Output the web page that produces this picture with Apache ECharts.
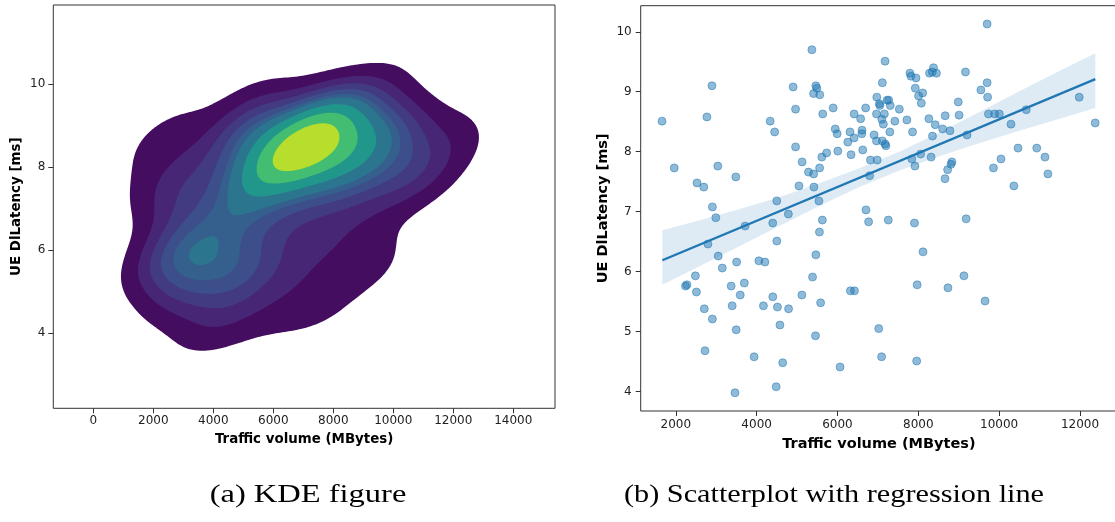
<!DOCTYPE html>
<html>
<head>
<meta charset="utf-8">
<script src="https://cdn.jsdelivr.net/npm/echarts@6/dist/echarts.min.js"></script>
<style>html,body{margin:0;padding:0;background:#fff}#c{width:1115px;height:522px}</style>
</head>
<body>
<div id="c"></div>
<script>
// ---- data ----
const trafficMB = [1660,1962,2240,2275,2485,2510,2525,2693,2705,2722,
2770,2795,2895,2905,2905,2990,3040,3050,3150,3370,
3395,3485,3505,3495,3465,3595,3695,3715,3938,4055,
4205,4168,4335,4400,4398,4445,4498,4500,4515,4483,
4576,4645,4785,4790,4903,4963,4963,5048,5125,5120,
5282,5367,5383,5409,5410,5418,5465,5490,5465,5456,
5562,5558,5541,5554,5583,5635,5613,5626,5732,5894,
5945,5992,6008,6064,6255,6310,6336,6412,6412,6320,
6421,6573,6607,6603,6625,6697,6705,6770,6795,6816,
6905,6973,6965,6965,6982,7021,7037,7050,7097,7110,
7092,7135,7110,7177,7160,7177,7198,7228,7266,7257,
7305,7296,7420,7530,7717,7793,7818,7840,7857,7905,
7917,7943,7925,7959,7972,8006,8057,8074,8108,8116,
8261,8278,8316,8350,8346,8375,8418,8448,8601,8665,
8660,8733,8725,8783,8809,8830,8988,9009,9128,9166,
9183,9205,9548,9651,9702,9702,9714,9736,9859,9889,
10003,10045,10292,10364,10466,10671,10930,11133,11206,11980,
12375];
const latencyMs = [8.51,7.73,5.76,5.78,5.93,5.66,7.48,7.41,5.38,4.68,
8.58,6.46,9.10,7.08,5.21,6.90,7.76,6.26,6.06,5.76,
5.43,7.58,6.16,5.03,3.98,5.61,5.81,6.76,4.58,6.18,
6.16,5.43,8.51,5.58,6.81,8.33,7.18,6.51,5.41,4.08,
5.11,4.48,6.96,5.38,9.08,8.08,8.71,7.43,7.83,5.61,
7.66,9.70,5.91,8.97,7.63,7.41,9.10,9.06,6.28,4.93,
8.95,7.73,7.18,6.66,5.48,8.63,7.91,6.86,7.98,8.73,
8.38,8.30,8.01,4.41,8.16,8.33,7.95,8.23,8.63,5.68,
5.68,8.55,8.36,8.30,8.03,8.73,7.03,6.83,7.60,7.86,
8.28,8.91,8.63,8.18,7.86,5.05,8.80,8.77,8.54,9.15,
4.58,8.46,8.18,9.51,8.63,8.13,8.10,8.86,8.86,6.86,
8.77,8.33,8.51,8.71,8.53,9.31,9.26,7.88,8.33,6.81,
7.76,9.23,9.06,4.51,5.78,8.93,7.96,8.81,8.98,6.33,
8.55,9.31,7.91,8.26,9.33,9.40,8.45,9.31,8.38,8.60,
7.55,5.73,7.70,8.35,7.79,7.83,8.83,8.61,5.93,9.33,
6.88,8.28,9.03,5.51,10.13,9.15,8.91,8.63,7.73,8.63,
8.63,7.88,8.46,7.43,8.06,8.70,8.06,7.91,7.63,8.91,
8.48];

// regression line and its confidence band
const fitX = [1668, 12379];
const fitY = [6.19, 9.21];
const ciX = [1668, 2500, 3500, 4500, 5500, 6500, 7500, 8500, 9500, 10500, 11500, 12379];
const ciLow = [5.78, 6.06, 6.40, 6.74, 7.08, 7.40, 7.68, 7.92, 8.14, 8.35, 8.55, 8.73];
const ciHigh = [6.69, 6.84, 7.03, 7.23, 7.46, 7.71, 7.99, 8.31, 8.66, 9.01, 9.35, 9.64];

// tick labels
const kdeXTicks = [0, 2000, 4000, 6000, 8000, 10000, 12000, 14000];
const kdeYTicks = [4, 6, 8, 10];
const scatXTicks = [2000, 4000, 6000, 8000, 10000, 12000];
const scatYTicks = [4, 5, 6, 7, 8, 9, 10];

const xTitle = 'Traffic volume (MBytes)';
const yTitle = 'UE DlLatency [ms]';
const captionA = '(a) KDE figure';
const captionB = '(b) Scatterplot with regression line';

// ---- KDE (gaussian kernel, Scott bandwidth, as seaborn kdeplot) ----
function gaussianKDE2D(xs, ys, gridsize, cut) {
  const n = xs.length;
  let mx = 0, my = 0;
  for (let i = 0; i < n; i++) { mx += xs[i]; my += ys[i]; }
  mx /= n; my /= n;
  let sxx = 0, syy = 0, sxy = 0;
  for (let i = 0; i < n; i++) {
    const dx = xs[i] - mx, dy = ys[i] - my;
    sxx += dx * dx; syy += dy * dy; sxy += dx * dy;
  }
  sxx /= (n - 1); syy /= (n - 1); sxy /= (n - 1);
  const f2 = Math.pow(n, -2 / 6);
  const a = sxx * f2, b = sxy * f2, c = syy * f2;
  const det = a * c - b * b;
  const ia = c / det, ib = -b / det, ic = a / det;
  const bwx = Math.sqrt(a), bwy = Math.sqrt(c);
  const x0 = Math.min(...xs) - cut * bwx, x1 = Math.max(...xs) + cut * bwx;
  const y0 = Math.min(...ys) - cut * bwy, y1 = Math.max(...ys) + cut * bwy;
  const gx = [], gy = [];
  for (let i = 0; i < gridsize; i++) {
    gx.push(x0 + (x1 - x0) * i / (gridsize - 1));
    gy.push(y0 + (y1 - y0) * i / (gridsize - 1));
  }
  const z = [];
  for (let j = 0; j < gridsize; j++) {
    const row = new Float64Array(gridsize);
    for (let i = 0; i < gridsize; i++) {
      let s = 0;
      for (let k = 0; k < n; k++) {
        const dx = gx[i] - xs[k], dy = gy[j] - ys[k];
        s += Math.exp(-0.5 * (ia * dx * dx + 2 * ib * dx * dy + ic * dy * dy));
      }
      row[i] = s;
    }
    z.push(row);
  }
  return { gx, gy, z };
}

function isoLevels(z, props) {
  const vals = [];
  z.forEach(r => r.forEach(v => vals.push(v)));
  vals.sort((p, q) => q - p);
  let total = 0;
  for (const v of vals) total += v;
  const cum = new Float64Array(vals.length);
  let acc = 0;
  for (let i = 0; i < vals.length; i++) { acc += vals[i]; cum[i] = acc / total; }
  return props.map(p => {
    const target = 1 - p;
    let lo = 0, hi = cum.length;
    while (lo < hi) { const mid = (lo + hi) >> 1; if (cum[mid] < target) lo = mid + 1; else hi = mid; }
    return vals[Math.min(lo, vals.length - 1)];
  });
}

function isoLoops(kde, t) {
  const { gx, gy, z } = kde;
  const nx = gx.length, ny = gy.length;
  const pts = new Map();
  const segs = [];
  function ep(key, xa, ya, va, xb, yb, vb) {
    if (!pts.has(key)) {
      const s = (t - va) / (vb - va);
      pts.set(key, [xa + s * (xb - xa), ya + s * (yb - ya)]);
    }
    return key;
  }
  for (let j = 0; j < ny - 1; j++) {
    for (let i = 0; i < nx - 1; i++) {
      const v0 = z[j][i], v1 = z[j][i + 1], v2 = z[j + 1][i + 1], v3 = z[j + 1][i];
      const b0 = v0 >= t, b1 = v1 >= t, b2 = v2 >= t, b3 = v3 >= t;
      if (b0 === b1 && b1 === b2 && b2 === b3) continue;
      const E = [null, null, null, null];
      if (b0 !== b1) E[0] = ep((j * nx + i) * 2, gx[i], gy[j], v0, gx[i + 1], gy[j], v1);
      if (b1 !== b2) E[1] = ep((j * nx + i + 1) * 2 + 1, gx[i + 1], gy[j], v1, gx[i + 1], gy[j + 1], v2);
      if (b3 !== b2) E[2] = ep(((j + 1) * nx + i) * 2, gx[i], gy[j + 1], v3, gx[i + 1], gy[j + 1], v2);
      if (b0 !== b3) E[3] = ep((j * nx + i) * 2 + 1, gx[i], gy[j], v0, gx[i], gy[j + 1], v3);
      const cr = E.filter(e => e !== null);
      if (cr.length === 2) {
        segs.push([cr[0], cr[1]]);
      } else if (cr.length === 4) {
        const center = (v0 + v1 + v2 + v3) / 4 >= t;
        if (center === b0) { segs.push([E[0], E[1]]); segs.push([E[2], E[3]]); }
        else { segs.push([E[3], E[0]]); segs.push([E[1], E[2]]); }
      }
    }
  }
  const adj = new Map();
  segs.forEach((s, idx) => {
    for (const k of s) { if (!adj.has(k)) adj.set(k, []); adj.get(k).push(idx); }
  });
  const used = new Uint8Array(segs.length);
  const loops = [];
  for (let s = 0; s < segs.length; s++) {
    if (used[s]) continue;
    used[s] = 1;
    const start = segs[s][0];
    let cur = segs[s][1];
    const loop = [pts.get(start)];
    let guard = 0;
    while (cur !== start && guard++ < 100000) {
      loop.push(pts.get(cur));
      const list = adj.get(cur);
      let next = -1;
      for (const k of list) if (!used[k]) { next = k; break; }
      if (next < 0) break;
      used[next] = 1;
      cur = segs[next][0] === cur ? segs[next][1] : segs[next][0];
    }
    if (loop.length > 2) loops.push(loop);
  }
  return loops;
}

const viridisStops = ['#440154', '#482878', '#3e4a89', '#31688e', '#26828e', '#1f9e89', '#35b779', '#6dcd59', '#b4de2c', '#fde725'];
function viridis(t) {
  t = Math.max(0, Math.min(1, t));
  const p = t * (viridisStops.length - 1);
  const i = Math.min(Math.floor(p), viridisStops.length - 2);
  const f = p - i;
  const h = s => [parseInt(s.slice(1, 3), 16), parseInt(s.slice(3, 5), 16), parseInt(s.slice(5, 7), 16)];
  const a = h(viridisStops[i]), b = h(viridisStops[i + 1]);
  return 'rgb(' + a.map((v, k) => Math.round(v + (b[k] - v) * f)).join(',') + ')';
}

const kde = gaussianKDE2D(trafficMB, latencyMs, 200, 3);
const props = [];
for (let i = 0; i < 10; i++) props.push(0.05 + (1 - 0.05) * i / 9);
const levels = isoLevels(kde.z, props);
const bands = [];
for (let k = 0; k < levels.length - 1; k++) {
  const mid = (levels[k] + levels[k + 1]) / 2;
  const color = viridis((mid - levels[0]) / (levels[levels.length - 1] - levels[0]));
  isoLoops(kde, levels[k]).forEach(loop => bands.push({ level: k, color, pts: loop }));
}

// ---- chart ----
const font = 'DejaVu Sans';
const chart = echarts.init(document.getElementById('c'), null, { renderer: 'canvas', width: 1115, height: 522 });

function mkAxis(o) {
  return Object.assign({
    type: 'value',
    nameLocation: 'middle',
    axisLine: { show: false, onZero: false },
    splitLine: { show: false },
    axisTick: { show: true, length: 5, lineStyle: { color: '#333', width: 1 }, customValues: o.ticks },
    axisLabel: { customValues: o.ticks, fontSize: o.fs, color: '#222', fontFamily: font, margin: o.margin, formatter: v => String(v) },
    nameTextStyle: { fontWeight: 'bold', fontSize: o.nfs, color: '#000', fontFamily: font }
  }, o.extra);
}

const option = {
  animation: false,
  backgroundColor: '#fff',
  textStyle: { fontFamily: font },
  grid: [
    { left: 53.3, top: 5, width: 501.7, height: 403.3, show: true, borderColor: '#333', borderWidth: 1, backgroundColor: 'transparent', containLabel: false, outerBoundsMode: 'none' },
    { left: 640.7, top: 5.7, width: 476.3, height: 405.3, show: true, borderColor: '#333', borderWidth: 1, backgroundColor: 'transparent', containLabel: false, outerBoundsMode: 'none' }
  ],
  xAxis: [
    mkAxis({ ticks: kdeXTicks, fs: 12, margin: 7, nfs: 13.4, extra: { gridIndex: 0, min: -1333, max: 15390, name: xTitle, nameGap: 25 } }),
    mkAxis({ ticks: scatXTicks, fs: 12, margin: 8, nfs: 14.5, extra: { gridIndex: 1, min: 1132, max: 12915, name: xTitle, nameGap: 26 } })
  ],
  yAxis: [
    mkAxis({ ticks: kdeYTicks, fs: 12, margin: 8, nfs: 13.4, extra: { gridIndex: 0, min: 2.18, max: 11.91, name: yTitle, nameGap: 30 } }),
    mkAxis({ ticks: scatYTicks, fs: 12, margin: 9, nfs: 14.5, extra: { gridIndex: 1, min: 3.676, max: 10.435, name: yTitle, nameGap: 30 } })
  ],
  series: [
    {
      type: 'custom', name: 'kde', xAxisIndex: 0, yAxisIndex: 0, silent: true, clip: true,
      data: bands.map(b => [b.pts[0][0], b.pts[0][1]]),
      encode: { x: 0, y: 1 },
      renderItem: (params, api) => {
        const b = bands[params.dataIndex];
        return { type: 'polygon', z2: b.level, shape: { points: b.pts.map(p => api.coord(p)) }, style: { fill: b.color, stroke: null } };
      }
    },
    {
      type: 'scatter', name: 'points', xAxisIndex: 1, yAxisIndex: 1, silent: true,
      data: trafficMB.map((x, i) => [x, latencyMs[i]]),
      symbolSize: 8,
      itemStyle: { color: 'rgba(31,119,180,0.5)', borderColor: 'rgba(31,119,180,0.5)', borderWidth: 1, opacity: 1 }
    },
    {
      type: 'custom', name: 'ci', xAxisIndex: 1, yAxisIndex: 1, silent: true,
      data: [[ciX[0], ciLow[0]]],
      encode: { x: 0, y: 1 },
      renderItem: (params, api) => {
        const pts = [];
        for (let i = 0; i < ciX.length; i++) pts.push(api.coord([ciX[i], ciHigh[i]]));
        for (let i = ciX.length - 1; i >= 0; i--) pts.push(api.coord([ciX[i], ciLow[i]]));
        return { type: 'polygon', shape: { points: pts }, style: { fill: 'rgba(31,119,180,0.15)', stroke: null } };
      }
    },
    {
      type: 'line', name: 'fit', xAxisIndex: 1, yAxisIndex: 1, silent: true,
      data: fitX.map((x, i) => [x, fitY[i]]),
      showSymbol: false, symbol: 'none',
      lineStyle: { color: '#1f77b4', width: 2.4 }
    }
  ],
  graphic: [
    { type: 'text', x: 308, y: 495, scaleX: 1.3, style: { text: captionA, fontSize: 25, fontFamily: 'Liberation Serif', fill: '#000', align: 'center', verticalAlign: 'middle' } },
    { type: 'text', x: 834, y: 495, scaleX: 1.21, style: { text: captionB, fontSize: 25, fontFamily: 'Liberation Serif', fill: '#000', align: 'center', verticalAlign: 'middle' } }
  ]
};
chart.setOption(option);
</script>
</body>
</html>
